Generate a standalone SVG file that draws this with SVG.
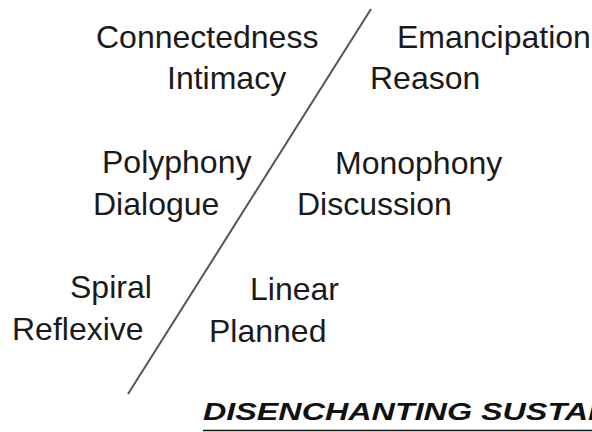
<svg xmlns="http://www.w3.org/2000/svg" width="592" height="432" viewBox="0 0 592 432">
<style>
.t{font-family:"Liberation Sans",Arial,sans-serif;font-size:32px;fill:#1a1a1a}
.title{font-family:"Liberation Sans",Arial,sans-serif;font-size:24px;font-weight:bold;font-style:italic;fill:#111}
</style>
<rect width="592" height="432" fill="#fff"/>
<g id="connectors">
<line x1="371" y1="9" x2="128" y2="394" stroke="#555" stroke-width="2"/>
</g>
<g id="row1-left">
<text class="t" x="96" y="48">Connectedness</text>
<text class="t" x="167" y="89">Intimacy</text>
</g>
<g id="row1-right">
<text class="t" x="397" y="48">Emancipation</text>
<text class="t" x="370" y="89">Reason</text>
</g>
<g id="row2-left">
<text class="t" x="102" y="173">Polyphony</text>
<text class="t" x="93" y="215">Dialogue</text>
</g>
<g id="row2-right">
<text class="t" x="335" y="174">Monophony</text>
<text class="t" x="297" y="215">Discussion</text>
</g>
<g id="row3-left">
<text class="t" x="70" y="298">Spiral</text>
<text class="t" x="12" y="340">Reflexive</text>
</g>
<g id="row3-right">
<text class="t" x="250" y="300">Linear</text>
<text class="t" x="209" y="342">Planned</text>
</g>
<g id="title">
<text class="title" x="203" y="420" textLength="394" lengthAdjust="spacingAndGlyphs">DISENCHANTING SUSTAI</text>
<line x1="203" y1="430.5" x2="592" y2="430.5" stroke="#111" stroke-width="1.5"/>
</g>
</svg>
